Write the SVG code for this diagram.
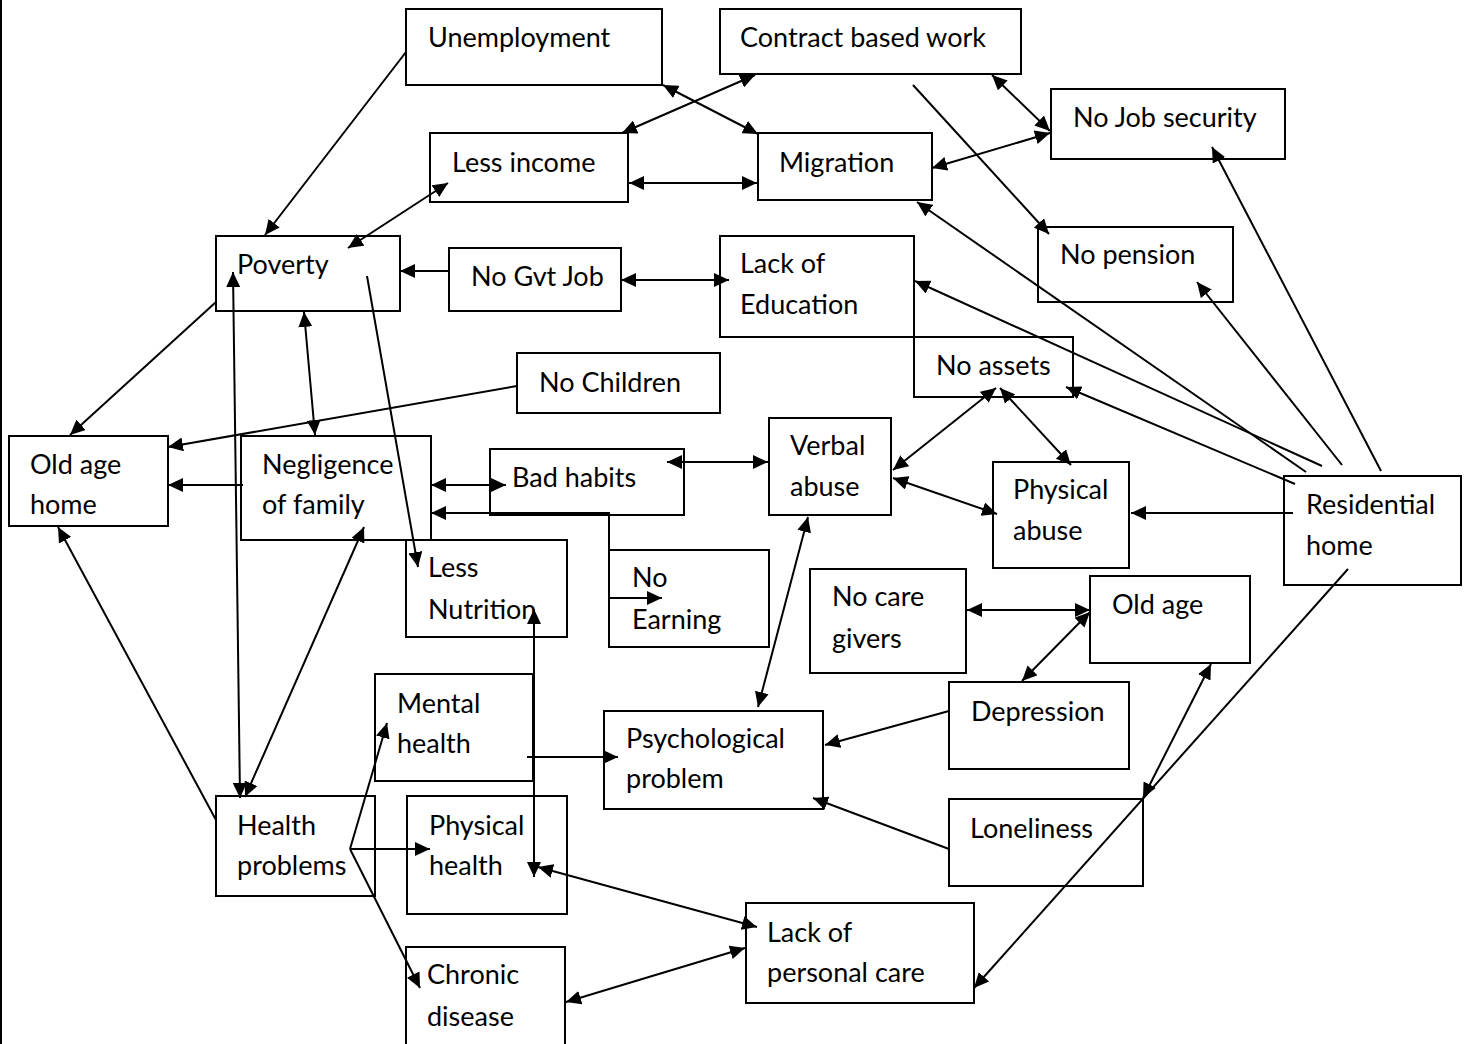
<svg xmlns="http://www.w3.org/2000/svg" width="1465" height="1044" viewBox="0 0 1465 1044">
<style>
.box{fill:#fff;stroke:#000;stroke-width:2}
.t{font-family:Lato,"Open Sans","Liberation Sans",sans-serif;font-size:27px;fill:#000}
.c{fill:none;stroke:#000;stroke-width:2}
.e{marker-end:url(#ah)}
.b{marker-start:url(#ah);marker-end:url(#ah)}
</style>
<defs>
<marker id="ah" viewBox="0 0 15 14" refX="15" refY="7" markerWidth="15" markerHeight="14" markerUnits="userSpaceOnUse" orient="auto-start-reverse">
<path d="M0,0 L15,7 L0,14 z" fill="#000"/>
</marker>
</defs>
<rect width="1465" height="1044" fill="#fff"/>
<line x1="1" y1="0" x2="1" y2="1044" stroke="#000" stroke-width="2"/>

<g id="unemployment"><rect class="box" x="406" y="9" width="256" height="76"/><text class="t" x="428" y="47">Unemployment</text></g>
<g id="contract"><rect class="box" x="720" y="9" width="301" height="65"/><text class="t" x="740" y="47">Contract based work</text></g>
<g id="nojobsecurity"><rect class="box" x="1051" y="89" width="234" height="70"/><text class="t" x="1073" y="127">No Job security</text></g>
<g id="lessincome"><rect class="box" x="430" y="133" width="198" height="69"/><text class="t" x="452" y="172">Less income</text></g>
<g id="migration"><rect class="box" x="758" y="133" width="174" height="67"/><text class="t" x="779" y="172">Migration</text></g>
<g id="poverty"><rect class="box" x="216" y="236" width="184" height="75"/><text class="t" x="237" y="274">Poverty</text></g>
<g id="nogvtjob"><rect class="box" x="449" y="248" width="172" height="63"/><text class="t" x="471" y="286">No Gvt Job</text></g>
<g id="lackeducation"><rect class="box" x="720" y="236" width="194" height="101"/><text class="t" x="740" y="273">Lack of</text><text class="t" x="740" y="314">Education</text></g>
<g id="nopension"><rect class="box" x="1038" y="227" width="195" height="75"/><text class="t" x="1060" y="264">No pension</text></g>
<g id="noassets"><rect class="box" x="914" y="337" width="159" height="60"/><text class="t" x="936" y="375">No assets</text></g>
<g id="nochildren"><rect class="box" x="517" y="353" width="203" height="60"/><text class="t" x="539" y="392">No Children</text></g>
<g id="oldagehome"><rect class="box" x="9" y="436" width="159" height="90"/><text class="t" x="30" y="474">Old age</text><text class="t" x="30" y="514">home</text></g>
<g id="negligence"><rect class="box" x="241" y="436" width="190" height="104"/><text class="t" x="262" y="474">Negligence</text><text class="t" x="262" y="514">of family</text></g>
<g id="badhabits"><rect class="box" x="490" y="449" width="194" height="66"/><text class="t" x="512" y="487">Bad habits</text></g>
<g id="verbalabuse"><rect class="box" x="769" y="418" width="122" height="97"/><text class="t" x="790" y="455">Verbal</text><text class="t" x="790" y="496">abuse</text></g>
<g id="physicalabuse"><rect class="box" x="993" y="462" width="136" height="106"/><text class="t" x="1013" y="499">Physical</text><text class="t" x="1013" y="540">abuse</text></g>
<g id="residential"><rect class="box" x="1284" y="476" width="177" height="109"/><text class="t" x="1306" y="514">Residential</text><text class="t" x="1306" y="555">home</text></g>
<g id="lessnutrition"><rect class="box" x="406" y="540" width="161" height="97"/><text class="t" x="428" y="577">Less</text><text class="t" x="428" y="619">Nutrition</text></g>
<g id="noearning"><rect class="box" x="609" y="550" width="160" height="97"/><text class="t" x="632" y="587">No</text><text class="t" x="632" y="629">Earning</text></g>
<g id="nocaregivers"><rect class="box" x="810" y="569" width="156" height="104"/><text class="t" x="832" y="606">No care</text><text class="t" x="832" y="648">givers</text></g>
<g id="oldage"><rect class="box" x="1090" y="576" width="160" height="87"/><text class="t" x="1112" y="614">Old age</text></g>
<g id="depression"><rect class="box" x="949" y="682" width="180" height="87"/><text class="t" x="971" y="721">Depression</text></g>
<g id="mentalhealth"><rect class="box" x="375" y="674" width="158" height="107"/><text class="t" x="397" y="713">Mental</text><text class="t" x="397" y="753">health</text></g>
<g id="psychological"><rect class="box" x="604" y="711" width="219" height="98"/><text class="t" x="626" y="748">Psychological</text><text class="t" x="626" y="788">problem</text></g>
<g id="loneliness"><rect class="box" x="949" y="799" width="194" height="87"/><text class="t" x="970" y="838">Loneliness</text></g>
<g id="healthproblems"><rect class="box" x="216" y="796" width="159" height="100"/><text class="t" x="237" y="835">Health</text><text class="t" x="237" y="875">problems</text></g>
<g id="physicalhealth"><rect class="box" x="407" y="796" width="160" height="118"/><text class="t" x="429" y="835">Physical</text><text class="t" x="429" y="875">health</text></g>
<g id="lackpersonalcare"><rect class="box" x="746" y="903" width="228" height="100"/><text class="t" x="767" y="942">Lack of</text><text class="t" x="767" y="982">personal care</text></g>
<g id="chronic"><rect class="box" x="406" y="947" width="159" height="110"/><text class="t" x="427" y="984">Chronic</text><text class="t" x="427" y="1026">disease</text></g>

<g id="connectors">
<path class="c e" d="M406,52 L265,235"/>
<path class="c b" d="M348,248 L448,183"/>
<path class="c e" d="M449,271 L400,271"/>
<path class="c e" d="M216,302 L70,435"/>
<path class="c b" d="M233,272 L240,798"/>
<path class="c b" d="M304,312 L315,435"/>
<path class="c e" d="M367,276 L418,567"/>
<path class="c e" d="M517,386 L168,447"/>
<path class="c e" d="M243,485 L168,485"/>
<path class="c b" d="M431,485 L506,485"/>
<path class="c b" d="M431,513 L609,513 L609,598 L662,598"/>
<path class="c b" d="M667,462 L768,462"/>
<path class="c b" d="M893,470 L996,388"/>
<path class="c b" d="M1000,388 L1071,465"/>
<path class="c b" d="M893,478 L997,514"/>
<path class="c e" d="M1293,513 L1131,513"/>
<path class="c e" d="M1295,484 L1066,387"/>
<path class="c e" d="M1322,466 L915,281"/>
<path class="c e" d="M1306,472 L917,202"/>
<path class="c e" d="M1342,465 L1197,282"/>
<path class="c e" d="M1381,471 L1212,147"/>
<path class="c e" d="M913,85 L1049,234"/>
<path class="c b" d="M992,75 L1050,131"/>
<path class="c b" d="M932,168 L1050,133"/>
<path class="c b" d="M663,85 L758,134"/>
<path class="c b" d="M622,133 L755,75"/>
<path class="c b" d="M629,183 L757,183"/>
<path class="c b" d="M621,280 L729,280"/>
<path class="c e" d="M1348,569 L974,988"/>
<path class="c b" d="M1211,664 L1143,798"/>
<path class="c b" d="M967,610 L1090,610"/>
<path class="c b" d="M1090,612 L1022,681"/>
<path class="c e" d="M949,711 L825,745"/>
<path class="c e" d="M949,849 L813,798"/>
<path class="c b" d="M808,517 L758,707"/>
<path class="c e" d="M527,757 L618,757"/>
<path class="c b" d="M534,609 L534,877"/>
<path class="c b" d="M538,867 L757,927"/>
<path class="c b" d="M566,1002 L745,948"/>
<path class="c e" d="M350,849 L387,723"/>
<path class="c e" d="M350,849 L430,849"/>
<path class="c e" d="M350,849 L420,988"/>
<path class="c e" d="M216,820 L58,527"/>
<path class="c b" d="M245,797 L364,527"/>
</g>
</svg>
